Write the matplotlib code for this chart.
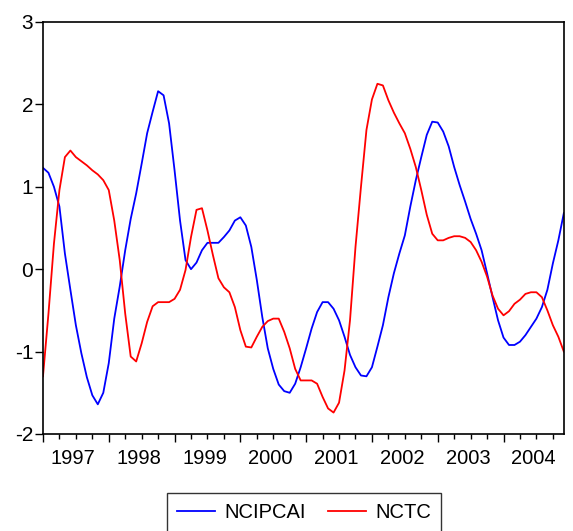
import matplotlib
matplotlib.use("Agg")
import matplotlib.pyplot as plt

plt.rcParams['font.family'] = ['Liberation Sans', 'DejaVu Sans']

# monthly observations, 1997M01 - 2004M12
years = [1997, 1998, 1999, 2000, 2001, 2002, 2003, 2004]

ncipcai = [1.23, 1.17, 1.00, 0.76, 0.19, -0.25, -0.68, -1.02, -1.31, -1.53, -1.64, -1.50,
           -1.14, -0.60, -0.21, 0.23, 0.61, 0.92, 1.28, 1.65, 1.91, 2.16, 2.11, 1.77,
           1.20, 0.59, 0.11, 0.00, 0.08, 0.23, 0.32, 0.32, 0.32, 0.39, 0.47, 0.59,
           0.63, 0.53, 0.27, -0.13, -0.58, -0.96, -1.21, -1.40, -1.48, -1.50, -1.39, -1.19,
           -0.96, -0.72, -0.52, -0.40, -0.40, -0.48, -0.62, -0.82, -1.04, -1.19, -1.29, -1.30,
           -1.19, -0.94, -0.68, -0.34, -0.05, 0.19, 0.41, 0.76, 1.08, 1.36, 1.63, 1.79,
           1.78, 1.67, 1.49, 1.24, 1.02, 0.82, 0.61, 0.43, 0.23, -0.05, -0.34, -0.62,
           -0.83, -0.92, -0.92, -0.88, -0.80, -0.70, -0.60, -0.46, -0.25, 0.07, 0.35, 0.68]

nctc = [-1.30, -0.54, 0.31, 0.96, 1.36, 1.44, 1.36, 1.31, 1.26, 1.20, 1.15, 1.08,
        0.96, 0.59, 0.11, -0.54, -1.06, -1.12, -0.90, -0.64, -0.45, -0.40, -0.40, -0.40,
        -0.36, -0.25, -0.01, 0.39, 0.72, 0.74, 0.47, 0.17, -0.11, -0.22, -0.28, -0.46,
        -0.74, -0.94, -0.95, -0.82, -0.70, -0.63, -0.60, -0.60, -0.76, -0.96, -1.21, -1.35,
        -1.35, -1.35, -1.39, -1.55, -1.69, -1.74, -1.62, -1.23, -0.62, 0.27, 1.00, 1.69,
        2.06, 2.25, 2.23, 2.05, 1.90, 1.77, 1.65, 1.46, 1.24, 0.96, 0.66, 0.43,
        0.35, 0.35, 0.38, 0.40, 0.40, 0.38, 0.33, 0.23, 0.09, -0.09, -0.32, -0.48,
        -0.56, -0.51, -0.42, -0.37, -0.30, -0.28, -0.28, -0.34, -0.50, -0.68, -0.82, -1.00]

y_ticks = [-2, -1, 0, 1, 2, 3]

t = list(range(len(ncipcai)))

fig = plt.figure(figsize=(5.73, 5.31), dpi=100)
ax = fig.add_axes([0.075, 0.1827, 0.909, 0.7759])

ax.plot(t, ncipcai, color='#0000ff', linewidth=1.3, label='NCIPCAI')
ax.plot(t, nctc, color='#ff0000', linewidth=1.3, label='NCTC')

ax.set_xlim(0, len(t) - 1)
ax.set_ylim(-2, 3)

# quarterly ticks, longer ones at the start of each year
ax.set_xticks([12 * k for k in range(len(years))])
ax.set_xticks(range(0, len(t), 3), minor=True)
ax.tick_params(axis='x', which='major', direction='out', length=6, width=1.0, labelbottom=False)
ax.tick_params(axis='x', which='minor', direction='out', length=3.5, width=1.0)
for k, yr in enumerate(years):
    ax.text(12 * k + 5.5, -0.036, str(yr), transform=ax.get_xaxis_transform(),
            ha='center', va='top', fontsize=14.5)

ax.set_yticks(y_ticks)
ax.set_yticklabels([str(v) for v in y_ticks])
ax.tick_params(axis='y', direction='out', length=5.5, width=1.0, pad=1.5, labelsize=15)

for side in ['left', 'right', 'top', 'bottom']:
    ax.spines[side].set_linewidth(1.2)
    ax.spines[side].set_color('black')

handles, labels = ax.get_legend_handles_labels()
leg = fig.legend(handles, labels, loc='center', bbox_to_anchor=(0.53, 0.034), ncol=2,
                 fontsize=14.5, frameon=True, fancybox=False, handlelength=1.9,
                 handletextpad=0.45, columnspacing=1.1, borderpad=0.5)
leg.get_frame().set_edgecolor('black')
leg.get_frame().set_linewidth(1.0)
for line in leg.get_lines():
    line.set_linewidth(1.3)

fig.savefig('out.png', dpi=100)
